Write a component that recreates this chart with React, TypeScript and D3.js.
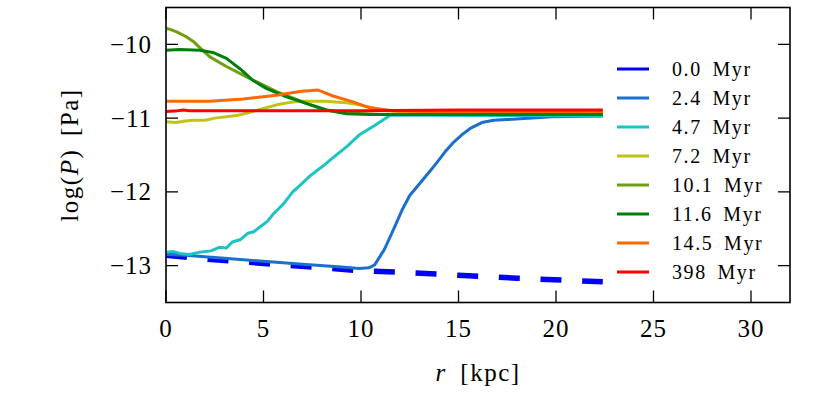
import * as d3 from "d3";
import React from "react";

// snapshot labels + colours
const labels = ["0.0 Myr", "2.4 Myr", "4.7 Myr", "7.2 Myr", "10.1 Myr", "11.6 Myr", "14.5 Myr", "398 Myr"];
const colors = ["#0000ff", "#1a6fcf", "#1cc4c4", "#c2c21a", "#6f9f10", "#00800a", "#ff6a00", "#ff0000"];

// [r (kpc), log P (Pa)]
const p00 = [[0, -12.86], [2, -12.91], [5, -12.97], [8, -13.03], [10, -13.07], [12, -13.09], [15, -13.13], [18, -13.17], [22.4, -13.22]];
const p24 = [[0, -12.85], [1, -12.86], [3, -12.9], [5, -12.94], [7, -12.98], [9, -13.02], [9.9, -13.04], [10.4, -13.03], [10.7, -12.99], [11.2, -12.78], [11.6, -12.55], [12.1, -12.25], [12.5, -12.05], [13.0, -11.89], [13.5, -11.73], [13.9, -11.6], [14.3, -11.46], [14.7, -11.34], [15.2, -11.22], [15.6, -11.14], [16.2, -11.06], [16.8, -11.03], [17.5, -11.02], [19.8, -10.98], [22.4, -10.97]];
const p47 = [[0, -12.82], [0.4, -12.81], [0.8, -12.84], [1.2, -12.85], [1.7, -12.82], [2.3, -12.8], [2.76, -12.75], [3.1, -12.76], [3.4, -12.68], [3.8, -12.65], [4.2, -12.56], [4.5, -12.54], [4.8, -12.48], [5.2, -12.4], [5.5, -12.3], [6.0, -12.17], [6.5, -12.0], [7.0, -11.88], [7.4, -11.78], [8.0, -11.66], [8.6, -11.53], [9.3, -11.38], [9.9, -11.23], [10.7, -11.1], [11.5, -10.96], [13, -10.96], [22.4, -10.97]];
const p72 = [[0, -11.05], [0.5, -11.06], [1.0, -11.04], [1.4, -11.03], [2.0, -11.03], [2.5, -11.0], [3.1, -10.98], [3.7, -10.96], [4.3, -10.92], [5.0, -10.87], [5.67, -10.82], [6.3, -10.79], [6.86, -10.77], [8.2, -10.77], [9.2, -10.79], [9.9, -10.82], [10.6, -10.86], [11.3, -10.9], [12.5, -10.92], [15, -10.93], [22.4, -10.93]];
const p101 = [[0, -9.78], [0.25, -9.8], [0.55, -9.83], [0.7, -9.85], [1.0, -9.89], [1.4, -9.96], [1.8, -10.06], [2.25, -10.17], [3.1, -10.3], [4.13, -10.44], [4.81, -10.53], [5.67, -10.64], [6.52, -10.73], [7.37, -10.82], [8.23, -10.89], [9.25, -10.93], [11, -10.95], [22.4, -10.95]];
const p116 = [[0, -10.08], [0.7, -10.07], [1.74, -10.08], [2.4, -10.11], [3.1, -10.19], [3.79, -10.33], [4.47, -10.49], [5.16, -10.6], [6.18, -10.71], [7.2, -10.8], [8.23, -10.89], [9.25, -10.94], [10.5, -10.95], [22.4, -10.95]];
const p145 = [[0, -10.77], [2.25, -10.77], [3.96, -10.74], [5.67, -10.69], [6.86, -10.64], [7.8, -10.62], [8.1, -10.65], [8.57, -10.7], [9.59, -10.78], [10.45, -10.86], [11.64, -10.9], [13, -10.91], [22.4, -10.91]];
const p398 = [[0, -10.91], [0.6, -10.9], [0.9, -10.89], [1.2, -10.9], [3, -10.9], [10, -10.9], [15, -10.89], [22.4, -10.89]];
const series = [p00, p24, p47, p72, p101, p116, p145, p398];

const xTicks = [0, 5, 10, 15, 20, 25, 30];
const yTicks = [-10, -11, -12, -13];

const W = 831, H = 393;
const left = 166, right = 790, top = 7.5, bottom = 302.5;
const font = "'Liberation Serif', 'DejaVu Serif', serif";

export default function App() {
  const x = d3.scaleLinear().domain([0, 32]).range([left, right]);
  const y = d3.scaleLinear().domain([-13.5, -9.5]).range([bottom, top]);
  const line = d3.line<number[]>().x((d) => x(d[0])).y((d) => y(d[1]));
  const tickLen = 12;

  return (
    <svg width={W} height={H} style={{ position: "absolute", left: 0, top: 0, background: "#fff" }} fontFamily={font}>
      <defs>
        <clipPath id="plotArea">
          <rect x={left} y={top} width={right - left} height={bottom - top} />
        </clipPath>
      </defs>
      <g clipPath="url(#plotArea)">
        {series.map((s, i) => (
          <path
            key={labels[i]}
            d={line(s) || ""}
            fill="none"
            stroke={colors[i]}
            strokeWidth={i === 0 ? 5.5 : 3}
            strokeDasharray={i === 0 ? "21,20.7" : undefined}
            strokeLinejoin="round"
          />
        ))}
      </g>
      {/* ticks, pointing inward on all four sides */}
      {xTicks.map((t) => (
        <g key={"x" + t}>
          <line x1={x(t)} x2={x(t)} y1={bottom} y2={bottom - tickLen} stroke="#000" strokeWidth={1.3} />
          <line x1={x(t)} x2={x(t)} y1={top} y2={top + tickLen} stroke="#000" strokeWidth={1.3} />
          <text x={x(t)} y={337} textAnchor="middle" fontSize={25} letterSpacing={1}>{t}</text>
        </g>
      ))}
      {yTicks.map((t) => (
        <g key={"y" + t}>
          <line x1={left} x2={left + tickLen} y1={y(t)} y2={y(t)} stroke="#000" strokeWidth={1.3} />
          <line x1={right} x2={right - tickLen} y1={y(t)} y2={y(t)} stroke="#000" strokeWidth={1.3} />
          <text x={152} y={y(t) + 8.5} textAnchor="end" fontSize={25} letterSpacing={1}>{"\u2212" + Math.abs(t)}</text>
        </g>
      ))}
      <rect x={left} y={top} width={right - left} height={bottom - top} fill="none" stroke="#000" strokeWidth={1.6} />
      {/* legend */}
      {labels.map((l, i) => (
        <g key={"leg" + l}>
          <line x1={617} x2={649} y1={69 + i * 29} y2={69 + i * 29} stroke={colors[i]} strokeWidth={3} />
          <text x={672} y={69 + i * 29 + 7} fontSize={20} letterSpacing={1.6} wordSpacing={4}>{l}</text>
        </g>
      ))}
      <text x={(left + right) / 2} y={381} textAnchor="middle" fontSize={25} letterSpacing={1.5} wordSpacing={6}>
        <tspan fontStyle="italic">r</tspan> [kpc]
      </text>
      <text transform={`translate(78,${(top + bottom) / 2}) rotate(-90)`} textAnchor="middle" fontSize={25} letterSpacing={1.5} wordSpacing={5}>
        log(<tspan fontStyle="italic">P</tspan>) [Pa]
      </text>
    </svg>
  );
}
